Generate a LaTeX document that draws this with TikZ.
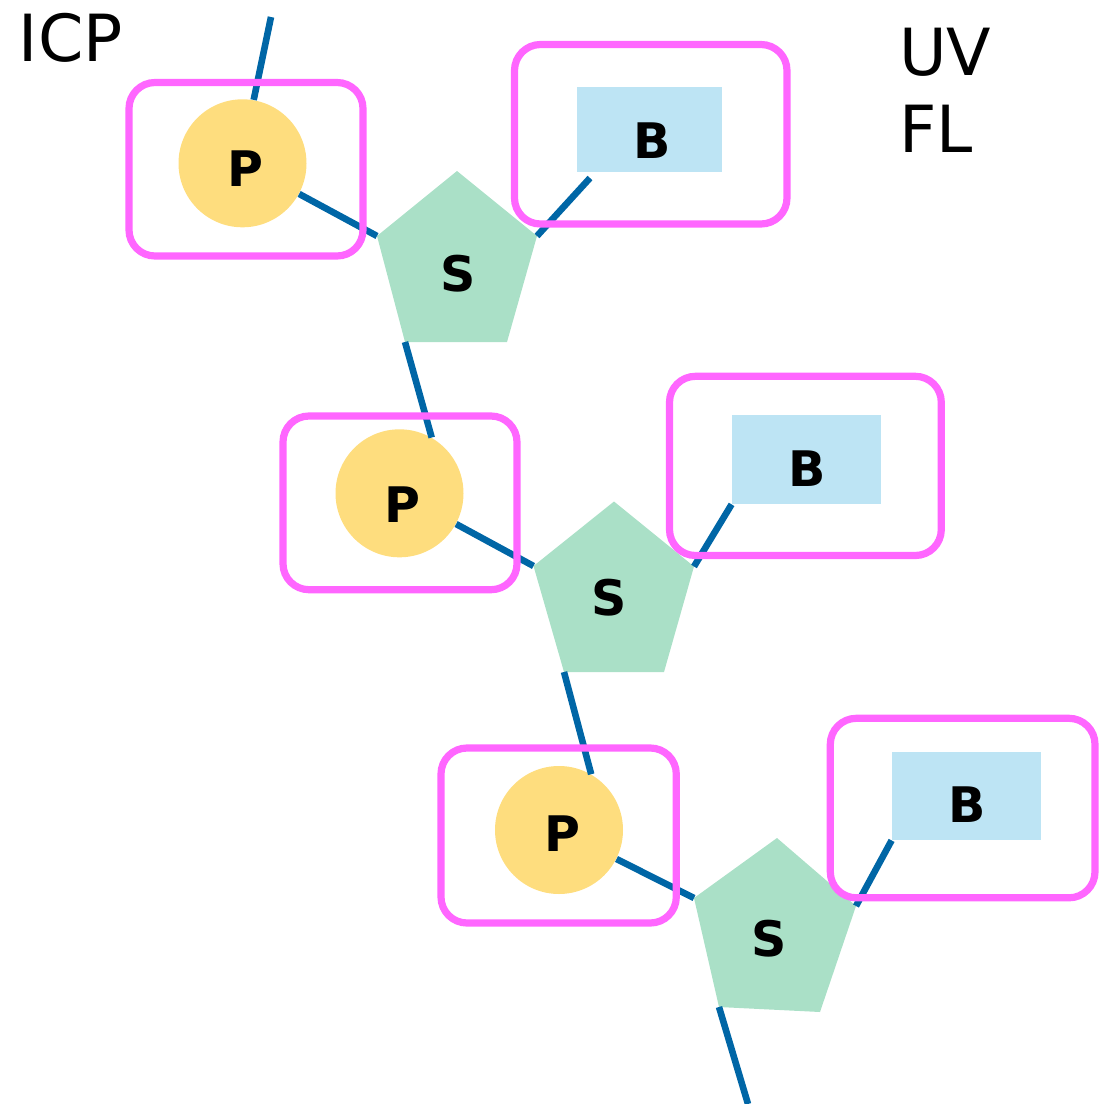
\documentclass[tikz,border=0pt]{standalone}
\usepackage{fontspec}
\setmainfont{DejaVu Sans}
\definecolor{groupline}{HTML}{FF66FF}
\definecolor{bondblue}{HTML}{0066A6}
\definecolor{sugargreen}{HTML}{AAE0C7}
\definecolor{phosyellow}{HTML}{FEDD7E}
\definecolor{baseblue}{HTML}{BDE4F4}
\begin{document}
\begin{tikzpicture}[x=0.5pt,y=-0.5pt,
  bond/.style={draw=bondblue,line width=3.3pt},
  grouping/.style={draw=groupline,line width=3.6pt,rounded corners=13pt},
  phos/.style={circle,fill=phosyellow,minimum size=64pt,inner sep=0pt},
  sugar/.style={fill=sugargreen},
  basebox/.style={rectangle,fill=baseblue,inner sep=0pt},
  lbl/.style={font=\fontsize{24.5}{29}\selectfont\bfseries,inner sep=0pt},
  tag/.style={font=\fontsize{32.5}{39}\selectfont,inner sep=0pt,anchor=base west}]
\path[use as bounding box] (0,0) rectangle (1099,1104);

% sugar pentagons (vertices: top, upper right, lower right, lower left, upper left)
\coordinate (s1t) at (457,171);   \coordinate (s1ur) at (537,236);
\coordinate (s1lr) at (507,342);  \coordinate (s1ll) at (405,342);
\coordinate (s1ul) at (377,236);
\coordinate (s2t) at (614,501.5); \coordinate (s2ur) at (694,566.5);
\coordinate (s2lr) at (664,672);  \coordinate (s2ll) at (564,672);
\coordinate (s2ul) at (533.5,566);
\coordinate (s3t) at (777,838);   \coordinate (s3ur) at (856,906);
\coordinate (s3lr) at (820,1012); \coordinate (s3ll) at (719,1007);
\coordinate (s3ul) at (694,898);
\fill[sugar] (s1t) -- (s1ur) -- (s1lr) -- (s1ll) -- (s1ul) -- cycle;
\fill[sugar] (s2t) -- (s2ur) -- (s2lr) -- (s2ll) -- (s2ul) -- cycle;
\fill[sugar] (s3t) -- (s3ur) -- (s3lr) -- (s3ll) -- (s3ul) -- cycle;

% phosphates
\node[phos] (p1) at (242.5,163.3) {};
\node[phos] (p2) at (399.5,493.3) {};
\node[phos] (p3) at (559,830) {};

% bases
\node[basebox,minimum width=72.5pt,minimum height=42.5pt] (b1) at (649.5,129.5) {};
\node[basebox,minimum width=74.5pt,minimum height=44.5pt] (b2) at (806.5,459.5) {};
\node[basebox,minimum width=74.5pt,minimum height=44pt] (b3) at (966.5,796) {};

% free chain ends
\coordinate (top) at (271,17);
\coordinate (bottom) at (748,1104);
\coordinate (b1end) at (590,178);

% backbone and base bonds
\draw[bond] (top) -- (p1.80);
\draw[bond] (p1) -- (s1ul);
\draw[bond] (s1ur) -- (b1end);
\draw[bond] (s1ll) -- (p2.60);
\draw[bond] (p2) -- (s2ul);
\draw[bond] (s2ur) -- (b2.south west);
\draw[bond] (s2ll) -- (p3.60);
\draw[bond] (p3) -- (s3ul);
\draw[bond] (s3ur) -- (b3.south west);
\draw[bond] (s3ll) -- (bottom);

% detection groupings
\draw[grouping] (129,82.5) rectangle (363,256);
\draw[grouping] (514.5,44.5) rectangle (787,224);
\draw[grouping] (283,416) rectangle (517,589.7);
\draw[grouping] (669.5,376.3) rectangle (941.3,555.5);
\draw[grouping] (441,748) rectangle (676.3,923);
\draw[grouping] (830.3,718.3) rectangle (1095,897.8);

% labels
\node[lbl] (p1t) at (245.5,169) {P};
\node[lbl] (p2t) at (402,505) {P};
\node[lbl] (p3t) at (562,833.3) {P};
\node[lbl] (s1x) at (458,274) {S};
\node[lbl] (s2x) at (609.5,597.5) {S};
\node[lbl] (s3x) at (769,939) {S};
\node[lbl] (b1t) at (652,140.5) {B};
\node[lbl] (b2t) at (807,469) {B};
\node[lbl] (b3t) at (967,805) {B};

\node[tag] (icp) at (18.5,61) {ICP};
\node[tag] (uv) at (899,75) {UV};
\node[tag] (fl) at (899,152.7) {FL};
\end{tikzpicture}
\end{document}
